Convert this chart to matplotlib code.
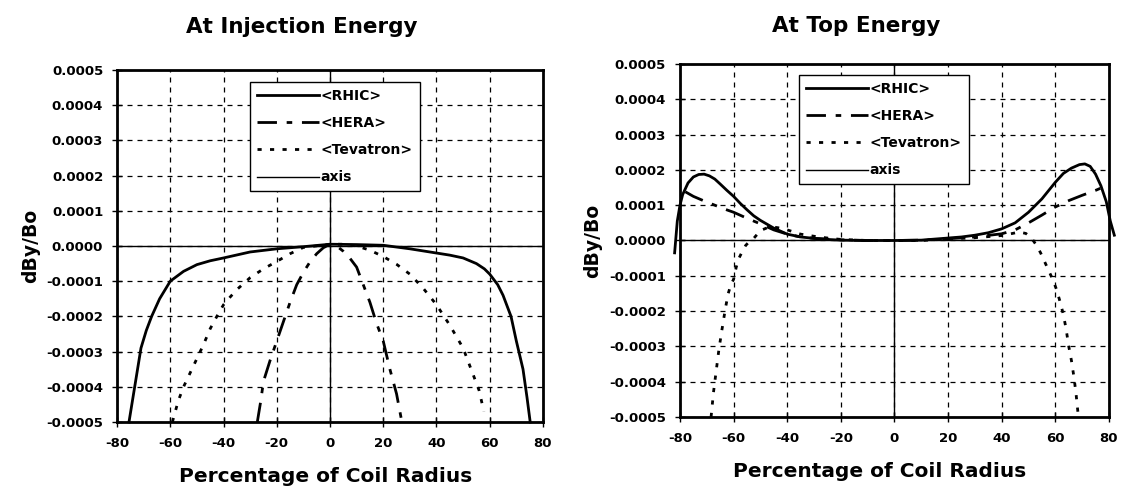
"""
dBy/Bo versus coil radius, injection and top energy
"""

import matplotlib

matplotlib.use("Agg")
import matplotlib.pyplot as plt
import numpy as np
from matplotlib.ticker import FormatStrFormatter, MultipleLocator

plt.rcParams["font.family"] = ["DejaVu Sans"]
plt.rcParams["font.weight"] = "bold"
plt.rcParams["axes.unicode_minus"] = False

## Titles and labels
titles = ["At Injection Energy", "At Top Energy"]
xlabel = "Percentage of Coil Radius"
ylabel = "dBy/Bo"
series_names = ["<RHIC>", "<HERA>", "<Tevatron>", "axis"]

## At injection energy
inj_rhic_x = [-75.5, -74, -72.5, -71, -69, -67, -64, -60, -55, -50, -45, -40, -30, -20, -10,
              0, 10, 20, 30, 40, 45, 50, 55, 58, 60, 63, 65, 68, 70, 72.5, 74, 75.2]
inj_rhic_y = [-5.0e-4, -4.3e-4, -3.6e-4, -2.9e-4, -2.4e-4, -2.0e-4, -1.5e-4, -1.0e-4, -0.72e-4,
              -0.53e-4, -0.42e-4, -0.34e-4, -0.17e-4, -0.08e-4, -0.02e-4,
              0.05e-4, 0.04e-4, 0.02e-4, -0.08e-4, -0.2e-4, -0.26e-4, -0.34e-4, -0.5e-4,
              -0.65e-4, -0.8e-4, -1.1e-4, -1.4e-4, -2.0e-4, -2.7e-4, -3.5e-4, -4.3e-4, -5.0e-4]

inj_hera_x = [-27.3, -26, -25, -22.5, -20, -17.5, -15, -12.5, -10, -7.5, -5, -2.5, 0,
              2.5, 5, 7.5, 10, 12.5, 15, 17.5, 20, 22.5, 25, 27]
inj_hera_y = [-5.0e-4, -4.4e-4, -3.85e-4, -3.25e-4, -2.7e-4, -2.15e-4, -1.6e-4, -1.1e-4,
              -0.75e-4, -0.45e-4, -0.22e-4, -0.05e-4, 0.05e-4,
              0.0, -0.15e-4, -0.35e-4, -0.6e-4, -1.1e-4, -1.6e-4, -2.2e-4, -2.7e-4,
              -3.5e-4, -4.2e-4, -5.0e-4]

inj_tev_x = [-59.2, -57, -55, -52.5, -50, -47.5, -45, -42.5, -40, -37.5, -35, -30, -25, -20,
             -15, -10, -5, 0, 5, 10, 15, 20, 25, 30, 35, 40, 45, 50, 53, 56, 57.8]
inj_tev_y = [-5.0e-4, -4.4e-4, -4.0e-4, -3.6e-4, -3.2e-4, -2.8e-4, -2.35e-4, -2.0e-4,
             -1.67e-4, -1.45e-4, -1.24e-4, -0.9e-4, -0.65e-4, -0.44e-4, -0.22e-4,
             -0.04e-4, 0.0, 0.05e-4, 0.05e-4, 0.0, -0.12e-4, -0.3e-4, -0.52e-4, -0.8e-4,
             -1.2e-4, -1.67e-4, -2.25e-4, -2.9e-4, -3.5e-4, -4.1e-4, -4.7e-4]

## At top energy
top_rhic_x = [-82, -81, -80, -79, -77, -75, -73, -71, -69, -67, -65, -62.5, -60, -57.5, -55,
              -52.5, -50, -45, -40, -35, -30, -25, -20, -10, 0, 10, 20, 25, 30, 35, 40, 45,
              50, 55, 60, 63, 66, 69, 71, 73, 75, 77, 79, 80.5, 82]
top_rhic_y = [-0.35e-4, 0.55e-4, 1.0e-4, 1.3e-4, 1.63e-4, 1.8e-4, 1.87e-4, 1.88e-4, 1.83e-4,
              1.74e-4, 1.6e-4, 1.42e-4, 1.25e-4, 1.05e-4, 0.87e-4, 0.7e-4, 0.57e-4,
              0.35e-4, 0.18e-4, 0.1e-4, 0.06e-4, 0.03e-4, 0.01e-4, 0.0, 0.0, 0.01e-4,
              0.07e-4, 0.1e-4, 0.15e-4, 0.22e-4, 0.33e-4, 0.5e-4, 0.8e-4, 1.18e-4,
              1.65e-4, 1.9e-4, 2.05e-4, 2.15e-4, 2.17e-4, 2.1e-4, 1.88e-4, 1.55e-4,
              1.1e-4, 0.55e-4, 0.15e-4]

top_hera_x = [-78, -75, -71, -67, -63, -60, -55, -50, -45, -40, -35, -30, -20, -10, 0, 10,
              20, 30, 40, 45, 50, 55, 60, 65, 70, 75, 79]
top_hera_y = [1.38e-4, 1.25e-4, 1.12e-4, 1.0e-4, 0.88e-4, 0.8e-4, 0.63e-4, 0.47e-4,
              0.3e-4, 0.18e-4, 0.1e-4, 0.06e-4, 0.02e-4, 0.0, 0.0, 0.01e-4, 0.05e-4,
              0.1e-4, 0.19e-4, 0.3e-4, 0.5e-4, 0.72e-4, 0.95e-4, 1.13e-4, 1.28e-4,
              1.42e-4, 1.55e-4]

top_tev_x = [-68.4, -67.5, -66.5, -65.5, -64.5, -63, -62, -61, -60, -59, -58, -57, -55.5,
             -54, -52.5, -50, -47.5, -45, -42.5, -40, -35, -30, -25, -20, -10, 0, 10, 20,
             30, 40, 44, 46.5, 49, 51, 53, 54.5, 56, 57.5, 59, 60.5, 62, 63, 64, 65, 66,
             67, 67.8, 68.6]
top_tev_y = [-5.0e-4, -4.3e-4, -3.7e-4, -3.1e-4, -2.6e-4, -1.9e-4, -1.5e-4, -1.25e-4,
             -1.1e-4, -0.75e-4, -0.5e-4, -0.35e-4, -0.14e-4, -0.02e-4, 0.06e-4, 0.28e-4,
             0.36e-4, 0.38e-4, 0.35e-4, 0.3e-4, 0.18e-4, 0.12e-4, 0.07e-4, 0.03e-4, 0.0,
             0.0, 0.0, 0.04e-4, 0.08e-4, 0.14e-4, 0.2e-4, 0.24e-4, 0.2e-4, 0.08e-4,
             -0.14e-4, -0.35e-4, -0.6e-4, -0.85e-4, -1.1e-4, -1.4e-4, -1.8e-4, -2.1e-4,
             -2.5e-4, -3.0e-4, -3.4e-4, -3.9e-4, -4.4e-4, -5.0e-4]

## Axis series: horizontal line, break, vertical line
axis_x = [-80, 80, np.nan, 0, 0]
axis_y = [0.0, 0.0, np.nan, -5e-4, 5e-4]

panels = [
    (inj_rhic_x, inj_rhic_y, inj_hera_x, inj_hera_y, inj_tev_x, inj_tev_y),
    (top_rhic_x, top_rhic_y, top_hera_x, top_hera_y, top_tev_x, top_tev_y),
]


def plot_data() -> None:
    fig = plt.figure(figsize=(11.23, 4.86), dpi=100)
    ax_rects = [[0.1042, 0.1317, 0.3793, 0.7243], [0.6055, 0.142, 0.382, 0.7263]]
    title_pos = [(0.269, 0.932), (0.762, 0.934)]
    xlabel_pos = [(0.290, 0.009), (0.783, 0.019)]
    ylabel_pos = [(0.027, 0.494), (0.528, 0.505)]
    legend_anchor = [(0.312, 0.966), (0.277, 0.969)]

    for i, data in enumerate(panels):
        ax = fig.add_axes(ax_rects[i])
        rx, ry, hx, hy, tx, ty = data
        ax.plot(rx, ry, color="black", lw=2.0, ls="-", label=series_names[0],
                clip_on=False, zorder=4)
        ax.plot(hx, hy, color="black", lw=2.0, ls=(0, (7, 3.5, 2, 3.5)),
                label=series_names[1], clip_on=False, zorder=4)
        ax.plot(tx, ty, color="black", lw=2.0, ls=(0, (1.5, 3)),
                label=series_names[2], clip_on=False, zorder=4)
        ax.plot(axis_x, axis_y, color="black", lw=1.0, ls="-", label=series_names[3],
                zorder=3)

        ax.set_xlim(-80, 80)
        ax.set_ylim(-5e-4, 5e-4)
        ax.xaxis.set_major_locator(MultipleLocator(20))
        ax.yaxis.set_major_locator(MultipleLocator(1e-4))
        ax.yaxis.set_major_formatter(FormatStrFormatter("%.4f"))
        ax.grid(True, color="black", lw=0.9, ls=(0, (4, 4)))
        ax.tick_params(direction="inout", length=7, width=1, labelsize=9.5)
        ax.tick_params(axis="x", pad=7)
        ax.tick_params(axis="y", pad=6.5)
        for lab in ax.get_xticklabels() + ax.get_yticklabels():
            lab.set_fontweight("bold")
        for sp in ax.spines.values():
            sp.set_linewidth(2.0)

        leg = ax.legend(loc="upper left", bbox_to_anchor=legend_anchor[i],
                        borderaxespad=0, fancybox=False, framealpha=1,
                        edgecolor="black", handlelength=4.5, labelspacing=0.95,
                        handletextpad=0.1, borderpad=0.5,
                        prop={"size": 10, "weight": "bold"})
        leg.get_frame().set_linewidth(1.0)
        leg.set_zorder(5)

        fig.text(*title_pos[i], titles[i], ha="center", va="baseline",
                 fontsize=15.5, fontweight="bold")
        fig.text(*xlabel_pos[i], xlabel, ha="center", va="baseline",
                 fontsize=14.5, fontweight="bold")
        fig.text(*ylabel_pos[i], ylabel, ha="center", va="center", rotation=90,
                 fontsize=13.5, fontweight="bold")

    fig.savefig("out.png", dpi=100, facecolor="white")


if __name__ == "__main__":
    plot_data()
